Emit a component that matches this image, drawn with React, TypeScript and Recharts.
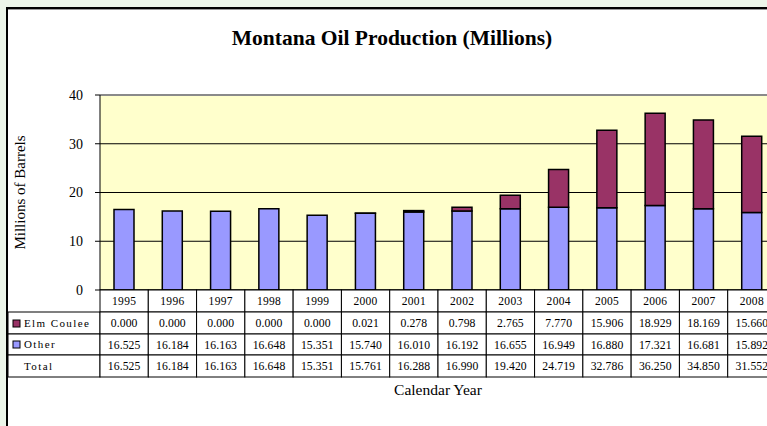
import { BarChart, Bar, XAxis, YAxis, CartesianGrid, ReferenceLine } from 'recharts'

const years = ['1995', '1996', '1997', '1998', '1999', '2000', '2001', '2002', '2003', '2004', '2005', '2006', '2007', '2008']
const elmCoulee = [0, 0, 0, 0, 0, 0.021, 0.278, 0.798, 2.765, 7.77, 15.906, 18.929, 18.169, 15.66]
const other = [16.525, 16.184, 16.163, 16.648, 15.351, 15.74, 16.01, 16.192, 16.655, 16.949, 16.88, 17.321, 16.681, 15.892]
const totals = [16.525, 16.184, 16.163, 16.648, 15.351, 15.761, 16.288, 16.99, 19.42, 24.719, 32.786, 36.25, 34.85, 31.552]
const yTicks = [0, 10, 20, 30, 40]

const data = years.map((year, i) => ({ year, elm: elmCoulee[i], other: other[i], total: totals[i] }))

const FONT = '"Liberation Serif", "Times New Roman", serif'
const ELM = '#993366'
const OTHER = '#9999FF'
const COL_W = 676 / 14
const ROW = [22, 22, 21, 22]

// year cell + value cells for each column, left header drawn with the first one
function TableTick(props: any) {
  const { x, y, index } = props
  const d = data[index]
  const left = x - COL_W / 2
  const rows = [d.year, d.elm.toFixed(3), d.other.toFixed(3), d.total.toFixed(3)]
  let top = y
  const cells = rows.map((txt, r) => {
    const cy = top
    top += ROW[r]
    return (
      <g key={r}>
        <rect x={left} y={cy} width={COL_W} height={ROW[r]} fill="#fff" stroke="#000" strokeWidth={1} />
        <text x={x} y={cy + ROW[r] / 2 + 4} textAnchor="middle" fontSize={r === 0 ? 11.5 : 11.7} fontFamily={FONT} letterSpacing={r === 0 ? 0.3 : 0.1} fill="#000">
          {txt}
        </text>
      </g>
    )
  })
  let header = null
  if (index === 0) {
    const hx = left - 92
    const y1 = y + ROW[0]
    const y2 = y1 + ROW[1]
    const y3 = y2 + ROW[2]
    header = (
      <g>
        <rect x={hx} y={y1} width={92} height={ROW[1]} fill="#fff" stroke="#000" />
        <rect x={hx} y={y2} width={92} height={ROW[2]} fill="#fff" stroke="#000" />
        <rect x={hx} y={y3} width={92} height={ROW[3]} fill="#fff" stroke="#000" />
        <rect x={hx + 5} y={y1 + 8} width={7} height={7} fill={ELM} stroke="#000" />
        <rect x={hx + 5} y={y2 + 7} width={7} height={7} fill={OTHER} stroke="#000" />
        <text x={hx + 16} y={y1 + 15} fontSize={11} fontFamily={FONT} letterSpacing={1.4} fill="#000">Elm Coulee</text>
        <text x={hx + 16} y={y2 + 14} fontSize={11} fontFamily={FONT} letterSpacing={1.4} fill="#000">Other</text>
        <text x={hx + 16} y={y3 + 15} fontSize={11} fontFamily={FONT} letterSpacing={1.4} fill="#000">Total</text>
      </g>
    )
  }
  return (
    <g>
      {header}
      {cells}
    </g>
  )
}

export default function App() {
  return (
    <div style={{ position: 'absolute', left: 0, top: 0, width: 767, height: 426, overflow: 'hidden', background: '#ECF5E9' }}>
      <div style={{ position: 'absolute', left: 6, top: 7, width: 900, height: 600, background: '#fff', border: '2px solid #000', boxShadow: 'inset 0 1px 0 #999' }} />
      <div style={{ position: 'absolute', left: 0, top: 26, width: 784, textAlign: 'center', fontFamily: FONT, fontWeight: 'bold', fontSize: 21.5, color: '#000' }}>
        Montana Oil Production (Millions)
      </div>
      <div style={{ position: 'absolute', left: 0, top: 0 }}>
        <BarChart
          width={800}
          height={426}
          data={data}
          margin={{ top: 95, right: 24, left: 40, bottom: 36 }}
          barSize={20}
        >
          <CartesianGrid vertical={false} stroke="#000" fill="#FFFFCC" fillOpacity={1} />
          <ReferenceLine y={40} stroke="#8a8a8a" strokeWidth={2} />
          <XAxis
            dataKey="year"
            height={100}
            axisLine={{ stroke: '#000' }}
            tickLine={false}
            tickSize={0}
            tickMargin={0}
            interval={0}
            tick={<TableTick />}
          />
          <YAxis
            width={60}
            domain={[0, 40]}
            ticks={yTicks}
            interval={0}
            axisLine={{ stroke: '#000' }}
            tickLine={{ stroke: '#000' }}
            tickSize={5}
            tickMargin={12}
            tick={{ fontSize: 14, fontFamily: FONT, fill: '#000' }}
            label={{ value: 'Millions of Barrels', angle: -90, position: 'insideLeft', offset: -20, style: { fontSize: 15, fontFamily: FONT, fill: '#000', textAnchor: 'middle' } }}
          />
          <Bar dataKey="other" stackId="a" fill={OTHER} stroke="#000" strokeWidth={1.5} isAnimationActive={false} />
          <Bar dataKey="elm" stackId="a" fill={ELM} stroke="#000" strokeWidth={1.5} isAnimationActive={false} />
        </BarChart>
      </div>
      <div style={{ position: 'absolute', left: 338, top: 381, width: 200, textAlign: 'center', fontFamily: FONT, fontSize: 15.5, color: '#000' }}>
        Calendar Year
      </div>
    </div>
  )
}
